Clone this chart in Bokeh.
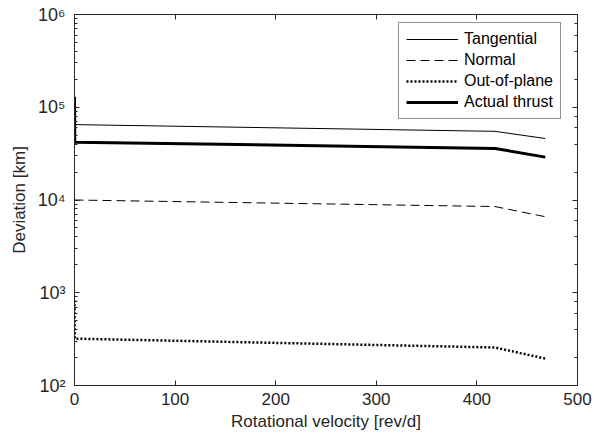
from bokeh.plotting import figure
from bokeh.models import LinearAxis, LogAxis, Legend, LegendItem, CustomJSTickFormatter, FixedTicker, Range1d
from bokeh.embed import file_html
from bokeh.resources import INLINE

# Data
rot_vel = [0.0, 0.3, 418.0, 468.0]
tangential = [65000, 65000, 55000, 46000]
normal = [10000, 10000, 8500, 6600]
out_of_plane = [830, 320, 257, 195]
actual_thrust = [130000, 42000, 36000, 29000]

x_ticks = [0, 100, 200, 300, 400, 500]

FONT = "Liberation Sans"

p = figure(width=594, height=443, y_axis_type="log",
           x_range=Range1d(0, 500), y_range=Range1d(1e2, 1e6),
           output_backend="svg", toolbar_location=None,
           min_border_left=74, min_border_right=17, min_border_top=14, min_border_bottom=58)
p.background_fill_color = "white"
p.border_fill_color = "white"
p.outline_line_color = "black"
p.outline_line_width = 1
p.grid.visible = False

fmt = CustomJSTickFormatter(code="""
const sup = {'0':'\u2070','1':'\u00b9','2':'\u00b2','3':'\u00b3','4':'\u2074','5':'\u2075','6':'\u2076','7':'\u2077','8':'\u2078','9':'\u2079'};
const e = String(Math.round(Math.log10(tick)));
return '10' + e.split('').map(c => sup[c]).join('');
""")
blank = CustomJSTickFormatter(code="return ' ';")

for ax in p.xaxis:
    ax.ticker = FixedTicker(ticks=x_ticks)
for ax in p.yaxis:
    ax.ticker.desired_num_ticks = 5
    ax.formatter = fmt

def style(ax):
    ax.major_tick_in = 5
    ax.major_tick_out = 0
    ax.minor_tick_in = 3
    ax.minor_tick_out = 0
    ax.axis_line_color = "#262626"
    ax.major_tick_line_color = "#262626"
    ax.minor_tick_line_color = "#262626"
    ax.major_label_text_font = FONT
    ax.major_label_text_font_size = "17px"
    ax.major_label_text_color = "#262626"
    ax.axis_label_text_font = FONT
    ax.axis_label_text_font_size = "17px"
    ax.axis_label_text_font_style = "normal"
    ax.axis_label_text_color = "#262626"

for ax in p.xaxis + p.yaxis:
    style(ax)
p.xaxis.axis_label = "Rotational velocity [rev/d]"
p.yaxis.axis_label = "Deviation [km]"
p.yaxis.major_label_text_font_size = "18px"
p.xaxis.minor_tick_in = 0
p.xaxis.major_label_standoff = 7
p.xaxis.axis_label_standoff = 4
p.yaxis.major_label_standoff = 9
p.yaxis.axis_label_standoff = 6

top = LinearAxis(ticker=FixedTicker(ticks=x_ticks), formatter=blank)
style(top)
top.minor_tick_in = 0
top.major_label_standoff = 0
top.major_label_text_font_size = "1px"
p.add_layout(top, "above")
right = LogAxis(formatter=blank)
style(right)
right.major_label_standoff = 0
right.major_label_text_font_size = "1px"
p.add_layout(right, "right")

r1 = p.line(rot_vel, tangential, line_color="black", line_width=1)
r2 = p.line(rot_vel, normal, line_color="black", line_width=1, line_dash="9 5")
r3 = p.line(rot_vel, out_of_plane, line_color="black", line_width=2.5, line_dash="2 2")
r4 = p.line(rot_vel, actual_thrust, line_color="black", line_width=3)

legend = Legend(items=[
    LegendItem(label="Tangential", renderers=[r1]),
    LegendItem(label="Normal", renderers=[r2]),
    LegendItem(label="Out-of-plane", renderers=[r3]),
    LegendItem(label="Actual thrust", renderers=[r4]),
], location=(324, 266))
legend.label_text_font = FONT
legend.label_text_font_size = "16px"
legend.label_text_color = "black"
legend.border_line_color = "#262626"
legend.border_line_width = 1
legend.glyph_width = 52
legend.glyph_height = 18
legend.label_standoff = 6
legend.label_height = 18
legend.padding = 7
legend.spacing = 3
legend.margin = 0
legend.background_fill_alpha = 1
p.add_layout(legend)

open("out.html", "w").write(file_html(p, INLINE))
